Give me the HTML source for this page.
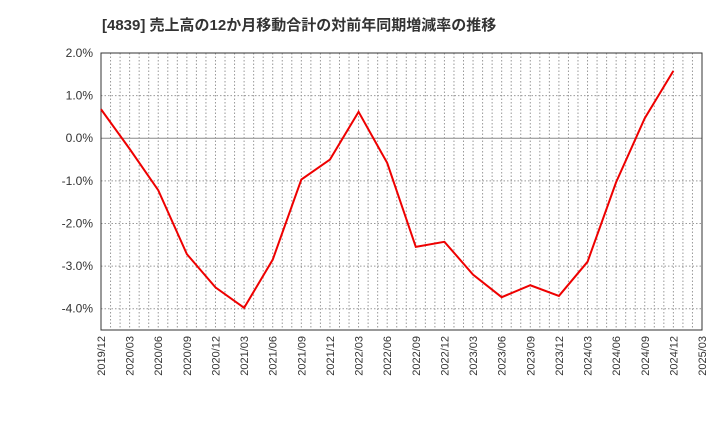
<!DOCTYPE html>
<html><head><meta charset="utf-8"><style>
body{margin:0;background:#fff;font-family:"Liberation Sans","Noto Sans CJK JP",sans-serif;}
</style></head><body>
<svg id="c" width="720" height="440" xmlns="http://www.w3.org/2000/svg">
<text x="102" y="30" font-size="15" font-weight="bold" fill="#333" font-family="Liberation Sans,Noto Sans CJK JP,sans-serif">[4839]  売上高の12か月移動合計の対前年同期増減率の推移</text>
<g id="grid"></g><g id="axes"></g><g id="series"></g>
</svg>
<script>
const categories=["2019/12","2020/03","2020/06","2020/09","2020/12","2021/03","2021/06","2021/09","2021/12","2022/03","2022/06","2022/09","2022/12","2023/03","2023/06","2023/09","2023/12","2024/03","2024/06","2024/09","2024/12","2025/03"];
const values=[0.68,-0.25,-1.22,-2.72,-3.5,-3.98,-2.85,-0.97,-0.5,0.62,-0.58,-2.55,-2.43,-3.2,-3.73,-3.45,-3.7,-2.9,-1.03,0.47,1.58];
const yTicks=[2,1,0,-1,-2,-3,-4];
const yTickLabels=["2.0%","1.0%","0.0%","-1.0%","-2.0%","-3.0%","-4.0%"];
const L=101,R=702,T=53,B=330,yMax=2,yMin=-4.5;
const NS="http://www.w3.org/2000/svg";
const x=i=>L+(R-L)*i/(categories.length-1);
const y=v=>T+(yMax-v)/(yMax-yMin)*(B-T);
function mk(tag,attrs,parent){const e=document.createElementNS(NS,tag);for(const k in attrs)e.setAttribute(k,attrs[k]);document.getElementById(parent).appendChild(e);return e;}
const months=(categories.length-1)*3;
for(let m=1;m<months;m++){const xx=L+(R-L)*m/months;
const g=mk("line",{x1:xx,x2:xx,y1:T,y2:B,stroke:"#999","stroke-dasharray":"1.5,2","stroke-width":1},"grid");

}
yTicks.forEach((v,i)=>{const yy=y(v);
const g=mk("line",{x1:L,x2:R,y1:yy,y2:yy,stroke:v===0?"#888":"#999","stroke-dasharray":v===0?"none":"1.5,2","stroke-width":1},"grid");


const t=mk("text",{x:L-8,y:yy+4,"text-anchor":"end","font-size":12,fill:"#333"},"axes");t.textContent=yTickLabels[i];

});
categories.forEach((c,i)=>{const xx=x(i);
const t=mk("text",{x:0,y:0,"text-anchor":"end","font-size":11,fill:"#333",transform:`translate(${xx+4},${B+6}) rotate(-90)`},"axes");t.textContent=c;

});
const f=mk("rect",{x:L,y:T,width:R-L,height:B-T,fill:"none",stroke:"#333","stroke-width":1},"axes");


const p=mk("polyline",{points:values.map((v,i)=>x(i)+","+y(v)).join(" "),fill:"none",stroke:"#e00",  "stroke-width":2},"series");


</script>
</body></html>
